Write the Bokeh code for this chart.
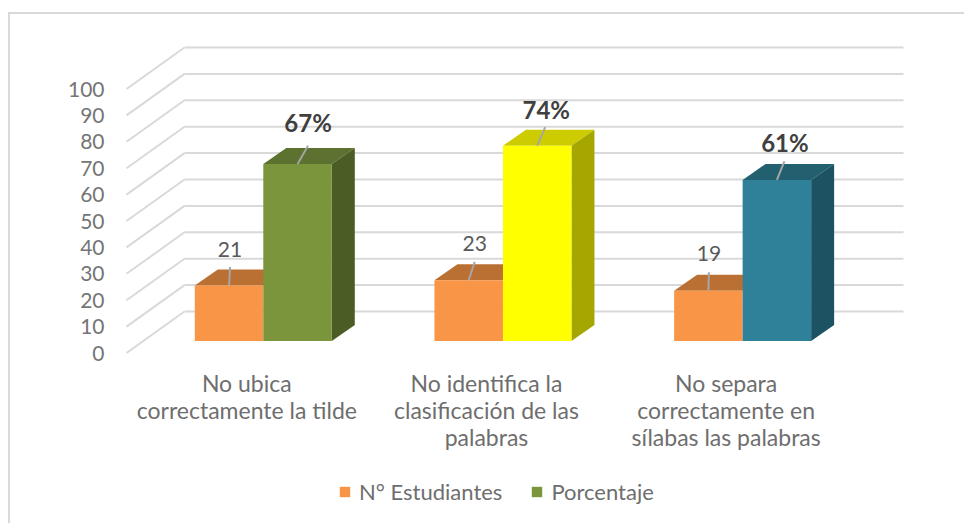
from bokeh.plotting import figure
from bokeh.models import (ColumnDataSource, Range1d, LinearAxis, FixedTicker, Legend, LegendItem)
from bokeh.core.properties import value
from bokeh.embed import file_html
from bokeh.resources import INLINE

# ---------- data ----------
categories = ["No ubica\ncorrectamente la tilde",
              "No identifica la\nclasificación de las\npalabras",
              "No separa\ncorrectamente en\nsílabas las palabras"]
estudiantes = [21, 23, 19]
porcentaje = [67, 74, 61]
y_ticks = [0, 10, 20, 30, 40, 50, 60, 70, 80, 90, 100]
series_names = ["N° Estudiantes", "Porcentaje"]

# ---------- styling / layout constants ----------
FONT = "Lato"
GRID = "#d9d9d9"
ORANGE = ("#f99546", "#bb7033")
PCT_FRONT = ["#7a953c", "#ffff00", "#2e8199"]
PCT_TOP = ["#5d7230", "#cccc00", "#22606f"]
PCT_SIDE = ["#4b5c24", "#a6a600", "#1d5262"]

FR_L, FR_R, FR_T, FR_B = 110, 964, 14, 523   # frame in picture pixels
BACK_X0, BACK_X1 = 184, 903                  # back-wall extent
BACK_Y0 = 311                                # back wall value 0
PX_V = 2.64                                  # pixels per value unit
PX_U = (BACK_X1 - BACK_X0) / 3.0             # pixels per category unit
WALL_DX, WALL_DY = 58 / PX_U, 41.5 / PX_V    # side wall depth
BAR_DX, BAR_DY = 23 / PX_U, 16 / PX_V        # bar depth
BASE = (BACK_Y0 - 340.5) / PX_V              # bar base in back-wall value units
BAR_W = 68.5 / PX_U
GROUP_OFF = (262.8 - BACK_X0) / PX_U
LABEL_OFF = (246.3 - BACK_X0) / PX_U
LABEL_TOP = (BACK_Y0 - 368) / PX_V

x_range = Range1d((FR_L - BACK_X0) / PX_U, (FR_R - BACK_X0) / PX_U)
y_range = Range1d((BACK_Y0 - FR_B) / PX_V, (BACK_Y0 - FR_T) / PX_V)

p = figure(width=954, height=509, output_backend="svg", toolbar_location=None,
           x_range=x_range, y_range=y_range, frame_width=FR_R - FR_L, frame_height=FR_B - FR_T,
           min_border_left=FR_L - 10, min_border_right=0, min_border_top=0, min_border_bottom=0,
           outline_line_color=None, x_axis_location=None, y_axis_location=None,
           background_fill_color="white", border_fill_color="white")
p.grid.visible = False
p.margin = (12, 0, 0, 8)
p.styles = {"border-top": f"2px solid {GRID}", "border-left": f"2px solid {GRID}", "box-sizing": "content-box"}

# ---------- walls ----------
p.segment(x0=[0] * len(y_ticks), x1=[3] * len(y_ticks), y0=y_ticks, y1=y_ticks, line_color=GRID, line_width=2)
p.segment(x0=[-WALL_DX] * len(y_ticks), x1=[0] * len(y_ticks),
          y0=[t - WALL_DY for t in y_ticks], y1=y_ticks, line_color=GRID, line_width=2)

# ---------- bars ----------
n = len(categories)
xc1 = [i + GROUP_OFF - BAR_W / 2 for i in range(n)]
xc2 = [i + GROUP_OFF + BAR_W / 2 for i in range(n)]


def top_face(xc, v):
    l, r, t = xc - BAR_W / 2, xc + BAR_W / 2, BASE + v
    return [l, r, r + BAR_DX, l + BAR_DX], [t, t, t + BAR_DY, t + BAR_DY]


def side_face(xc, v):
    r, t = xc + BAR_W / 2, BASE + v
    return [r, r + BAR_DX, r + BAR_DX, r], [BASE, BASE + BAR_DY, t + BAR_DY, t]


faces = [top_face(x, v) for x, v in zip(xc1, estudiantes)]
p.patches([f[0] for f in faces], [f[1] for f in faces], fill_color=ORANGE[1], line_color=None)
r_est = p.vbar(x=xc1, width=BAR_W, bottom=BASE, top=[BASE + v for v in estudiantes],
               fill_color=ORANGE[0], line_color=None)
faces = [top_face(x, v) for x, v in zip(xc2, porcentaje)]
p.patches([f[0] for f in faces], [f[1] for f in faces], fill_color=PCT_TOP, line_color=None)
faces = [side_face(x, v) for x, v in zip(xc2, porcentaje)]
p.patches([f[0] for f in faces], [f[1] for f in faces], fill_color=PCT_SIDE, line_color=None)
r_pct = p.vbar(x=xc2, width=BAR_W, bottom=BASE, top=[BASE + v for v in porcentaje],
               fill_color=PCT_FRONT, line_color=None)

# ---------- leaders + data labels ----------
LEAD_DX = ([1, 6, 0.5], [10.5, 8, 7.5])
LEAD_DY = 18.5
LAB_DX = ([1, 6, 0.5], [10.5, 9, 8])
LAB_DY = ([35.6, 37, 37.8], [41.5, 36, 37.5])
for xs, vals, ldx, tdx, tdy, kw in (
        (xc1, estudiantes, LEAD_DX[0], LAB_DX[0], LAB_DY[0],
         dict(text_font_style="normal", text_color="#595959", text_font_size="21px")),
        (xc2, porcentaje, LEAD_DX[1], LAB_DX[1], LAB_DY[1],
         dict(text_font_style="bold", text_color="#404040", text_font_size="24px"))):
    p.segment(x0=xs, y0=[BASE + v for v in vals],
              x1=[x + d / PX_U for x, d in zip(xs, ldx)],
              y1=[BASE + v + LEAD_DY / PX_V for v in vals],
              line_color="#a6a6a6", line_width=2)
    txt = [f"{v}%" if vals is porcentaje else str(v) for v in vals]
    p.text(x=[x + d / PX_U for x, d in zip(xs, tdx)],
           y=[BASE + v + d / PX_V for v, d in zip(vals, tdy)],
           text=txt, text_align="center", text_baseline="middle",
           text_font=value(FONT), **kw)

# ---------- value axis (front edge of the side wall) ----------
p.extra_y_ranges = {"front": Range1d(y_range.start + WALL_DY, y_range.end + WALL_DY)}
ax = LinearAxis(y_range_name="front", ticker=FixedTicker(ticks=y_ticks),
                axis_line_color=None, major_tick_line_color=None, minor_tick_line_color=None,
                major_label_standoff=0, major_label_text_font=FONT,
                major_label_text_font_size="21px", major_label_text_color="#757575")
p.add_layout(ax, "left")

# ---------- category labels ----------
p.text(x=[i + LABEL_OFF for i in range(n)], y=[LABEL_TOP] * n, text=categories,
       text_align="center", text_baseline="top", text_font=value(FONT),
       text_font_size="23px", text_color="#6e6e6e", text_line_height=0.98)

# ---------- legend ----------
legend = Legend(items=[LegendItem(label=series_names[0], renderers=[r_est], index=0),
                       LegendItem(label=series_names[1], renderers=[r_pct], index=0)],
                orientation="horizontal", location=(228, 18), border_line_color=None,
                background_fill_alpha=0, glyph_width=13, glyph_height=13, spacing=28,
                label_text_font=FONT, label_text_font_size="22px", label_text_color="#6e6e6e",
                margin=0, padding=6, label_standoff=8)
p.add_layout(legend, "center")

open("out.html", "w").write(file_html(p, INLINE))
